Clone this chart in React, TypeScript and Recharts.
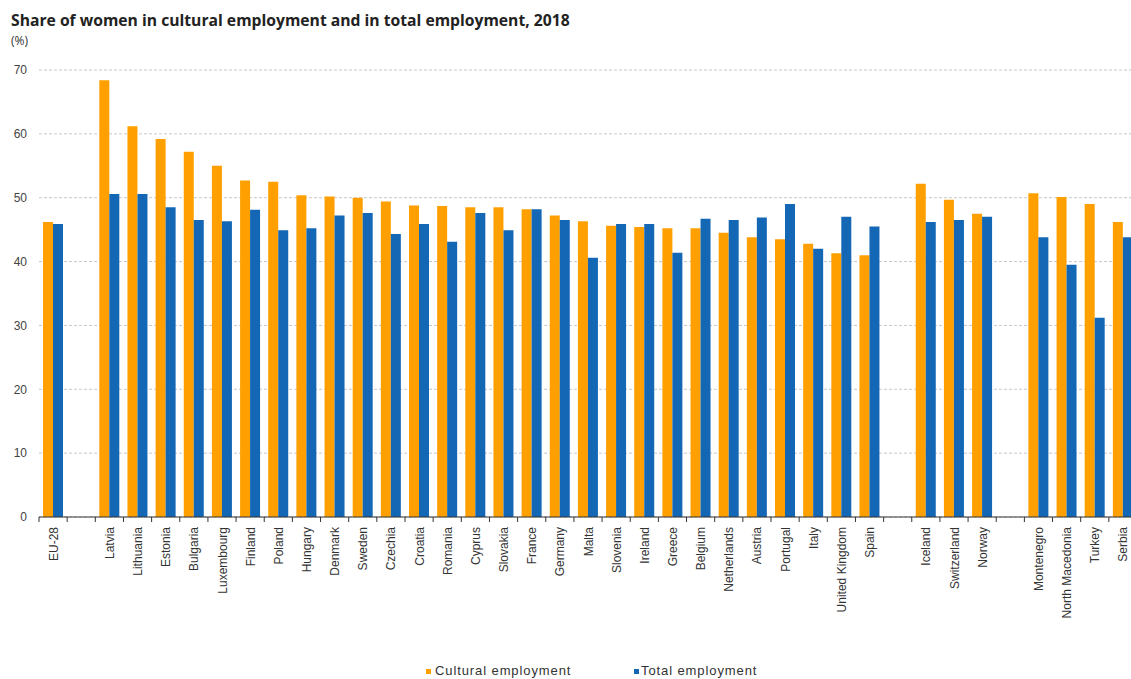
import React from "react";
import { BarChart, Bar, XAxis, YAxis, CartesianGrid } from "recharts";

const categories = [
  "EU-28", "",
  "Latvia", "Lithuania", "Estonia", "Bulgaria", "Luxembourg", "Finland", "Poland", "Hungary",
  "Denmark", "Sweden", "Czechia", "Croatia", "Romania", "Cyprus", "Slovakia", "France",
  "Germany", "Malta", "Slovenia", "Ireland", "Greece", "Belgium", "Netherlands", "Austria",
  "Portugal", "Italy", "United Kingdom", "Spain", "",
  "Iceland", "Switzerland", "Norway", "",
  "Montenegro", "North Macedonia", "Turkey", "Serbia",
];

const culturalEmployment = [
  46.2, null,
  68.4, 61.2, 59.2, 57.2, 55.0, 52.7, 52.5, 50.4,
  50.2, 50.0, 49.4, 48.8, 48.7, 48.5, 48.5, 48.2,
  47.2, 46.3, 45.6, 45.4, 45.2, 45.2, 44.5, 43.8,
  43.5, 42.8, 41.3, 41.0, null,
  52.2, 49.7, 47.5, null,
  50.7, 50.1, 49.0, 46.2,
];

const totalEmployment = [
  45.9, null,
  50.6, 50.6, 48.5, 46.5, 46.3, 48.1, 44.9, 45.2,
  47.2, 47.6, 44.3, 45.9, 43.1, 47.6, 44.9, 48.2,
  46.5, 40.6, 45.9, 45.9, 41.4, 46.7, 46.5, 46.9,
  49.0, 42.0, 47.0, 45.5, null,
  46.2, 46.5, 47.0, null,
  43.8, 39.5, 31.2, 43.8,
];

const yTicks = [0, 10, 20, 30, 40, 50, 60, 70];

const data = categories.map((c, i) => ({
  name: c,
  cultural: culturalEmployment[i],
  total: totalEmployment[i],
}));

const ORANGE = "#FFA000";
const BLUE = "#1467B5";
const FONT = "'Liberation Sans', Arial, sans-serif";

const CategoryTick = (props: any) => {
  const { x, y, payload } = props;
  const half = payload && payload.offset ? payload.offset : 14.07;
  return (
    <g transform={`translate(${x},${y})`}>
      <line x1={-half} y1={0} x2={-half} y2={5} stroke="#333" strokeWidth={1} />
      <text
        transform="rotate(-90)"
        x={-10}
        y={0}
        dy={4.5}
        textAnchor="end"
        fontSize={12}
        fontFamily={FONT}
        fill="#333"
      >
        {payload.value}
      </text>
    </g>
  );
};

export default function App() {
  return (
    <div
      style={{
        position: "absolute",
        left: 0,
        top: 0,
        width: 1131,
        height: 679,
        overflow: "hidden",
        background: "#fff",
        fontFamily: FONT,
      }}
    >
      <div
        style={{
          position: "absolute",
          left: 11,
          top: 10,
          fontSize: 15.7,
          lineHeight: "20px",
          fontWeight: "bold",
          fontFamily: "'Open Sans', sans-serif",
          color: "#222",
          whiteSpace: "nowrap",
        }}
      >
        Share of women in cultural employment and in total employment, 2018
      </div>
      <div
        style={{
          position: "absolute",
          left: 11,
          top: 33,
          fontSize: 12,
          lineHeight: "16px",
          fontFamily: "'Open Sans', sans-serif",
          color: "#333",
        }}
      >
        (%)
      </div>
      <div style={{ position: "absolute", left: 0, top: 0 }}>
        <BarChart
          width={1137}
          height={679}
          data={data}
          margin={{ top: 70, right: 0, left: 0, bottom: 0 }}
          barCategoryGap={4}
          barGap={0}
        >
          <CartesianGrid
            vertical={false}
            stroke="#c8c8c8"
            strokeDasharray="3 2"
          />
          <XAxis
            dataKey="name"
            height={162}
            interval={0}
            tickLine={false}
            tickSize={0}
            tickMargin={0}
            tick={<CategoryTick />}
            axisLine={{ stroke: "#333", strokeWidth: 1.2 }}
          />
          <YAxis
            width={39}
            domain={[0, 70]}
            ticks={yTicks}
            interval={0}
            axisLine={false}
            tickLine={false}
            tickSize={0}
            tickMargin={12}
            tick={{ fontSize: 12, fill: "#444", fontFamily: FONT }}
          />
          <Bar dataKey="cultural" fill={ORANGE} isAnimationActive={false} />
          <Bar dataKey="total" fill={BLUE} isAnimationActive={false} />
        </BarChart>
      </div>
      <div style={{ position: "absolute", left: 426, top: 669, width: 5, height: 5, background: ORANGE }} />
      <div
        style={{
          position: "absolute",
          left: 435,
          top: 663,
          fontSize: 13,
          lineHeight: "16px",
          letterSpacing: 0.9,
          color: "#333",
          whiteSpace: "nowrap",
        }}
      >
        Cultural employment
      </div>
      <div style={{ position: "absolute", left: 634, top: 669, width: 5, height: 5, background: BLUE }} />
      <div
        style={{
          position: "absolute",
          left: 641,
          top: 663,
          fontSize: 13,
          lineHeight: "16px",
          letterSpacing: 0.9,
          color: "#333",
          whiteSpace: "nowrap",
        }}
      >
        Total employment
      </div>
    </div>
  );
}
